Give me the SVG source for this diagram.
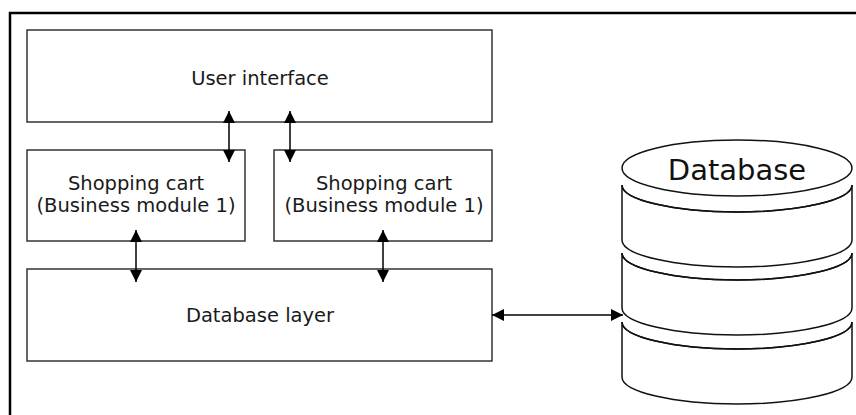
<svg xmlns="http://www.w3.org/2000/svg" width="856" height="415" viewBox="0 0 856 415">
<defs>
<style>
.box{fill:#fff;stroke:#333;stroke-width:1.5}
.lbl{font-family:"DejaVu Sans","Liberation Sans",sans-serif;font-size:19.5px;fill:#1a1a1a;text-anchor:middle}
.conn{stroke:#000;stroke-width:1.5;fill:none;marker-start:url(#ah);marker-end:url(#ah)}
.cyl{fill:#fff;stroke:#111;stroke-width:1.5}
.cyl-line{fill:none;stroke:#111;stroke-width:1.5}
</style>
<marker id="ah" viewBox="0 0 12 12" refX="12" refY="6" markerWidth="12" markerHeight="12" markerUnits="userSpaceOnUse" orient="auto-start-reverse">
<path d="M0,0 L12,6 L0,12 z" fill="#000"/>
</marker>
</defs>
<rect x="0" y="0" width="856" height="415" fill="#fff"/>
<polyline points="10,415 10,13 856,13" fill="none" stroke="#000" stroke-width="2.5"/>

<g id="user-interface">
<rect class="box" x="27" y="30" width="465" height="92"/>
<text class="lbl" x="260" y="85">User interface</text>
</g>
<g id="shopping-cart-1">
<rect class="box" x="27" y="150" width="218" height="91"/>
<text class="lbl" x="136" y="190">Shopping cart</text>
<text class="lbl" x="136" y="212">(Business module 1)</text>
</g>
<g id="shopping-cart-2">
<rect class="box" x="274" y="150" width="218" height="91"/>
<text class="lbl" x="384" y="190">Shopping cart</text>
<text class="lbl" x="384" y="212">(Business module 1)</text>
</g>
<g id="database-layer">
<rect class="box" x="27" y="269" width="465" height="92"/>
<text class="lbl" x="260" y="322">Database layer</text>
</g>
<g id="database">
<path class="cyl" d="M622,322 L622,377 A115,27 0 0 0 852,377 L852,322 A115,27 0 0 1 622,322 Z"/>
<path class="cyl-line" d="M622,322 A115,27 0 0 0 852,322"/>
<path class="cyl" d="M622,253 L622,308 A115,27 0 0 0 852,308 L852,253 A115,27 0 0 1 622,253 Z"/>
<path class="cyl-line" d="M622,253 A115,27 0 0 0 852,253"/>
<path class="cyl" d="M622,185 L622,240 A115,27 0 0 0 852,240 L852,185 A115,27 0 0 1 622,185 Z"/>
<path class="cyl-line" d="M622,185 A115,27 0 0 0 852,185"/>
<ellipse class="cyl" cx="737" cy="168" rx="115" ry="28"/>
<text x="737" y="180" font-family="'DejaVu Sans','Liberation Sans',sans-serif" font-size="29" fill="#111" text-anchor="middle">Database</text>
</g>
<g id="connectors">
<path class="conn" d="M229,111 L229,162"/>
<path class="conn" d="M290,111 L290,162"/>
<path class="conn" d="M136,230 L136,282"/>
<path class="conn" d="M383,230 L383,282"/>
<path class="conn" d="M492,315 L623,315"/>
</g>
</svg>
